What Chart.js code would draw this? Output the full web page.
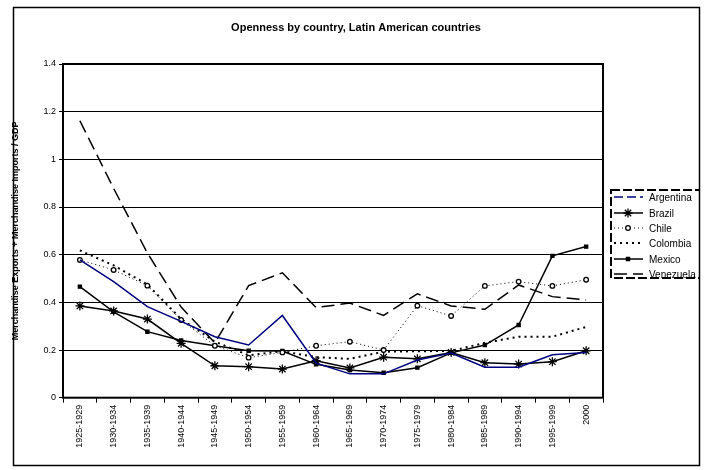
<!DOCTYPE html>
<html>
<head>
<meta charset="utf-8">
<title>Openness by country</title>
<script src="https://cdn.jsdelivr.net/npm/chart.js@4.4.1/dist/chart.umd.min.js"></script>
<style>
  html,body{margin:0;padding:0;background:#fff;}
  #wrap{width:708px;height:470px;}
</style>
</head>
<body>
<div id="wrap"><canvas id="openChart" width="708" height="470"></canvas></div>
<script>
/* data */
const periods = ['1925-1929','1930-1934','1935-1939','1940-1944','1945-1949','1950-1954','1955-1959','1960-1964',
                 '1965-1969','1970-1974','1975-1979','1980-1984','1985-1989','1990-1994','1995-1999','2000'];
const argentina = [0.578,0.487,0.382,0.320,0.256,0.221,0.345,0.145,0.100,0.100,0.158,0.187,0.128,0.128,0.180,0.190];
const brazil    = [0.385,0.364,0.330,0.228,0.134,0.130,0.120,0.155,0.125,0.170,0.163,0.190,0.147,0.141,0.151,0.197];
const chile     = [0.578,0.536,0.470,0.326,0.218,0.168,0.190,0.218,0.235,0.200,0.386,0.343,0.469,0.487,0.469,0.495];
const colombia  = [0.618,0.555,0.475,0.330,0.235,0.178,0.195,0.170,0.163,0.193,0.195,0.196,0.230,0.256,0.256,0.297];
const mexico    = [0.466,0.360,0.277,0.240,0.218,0.197,0.196,0.140,0.116,0.105,0.126,0.188,0.221,0.305,0.595,0.634];
const venezuela = [1.162,0.878,0.607,0.380,0.230,0.470,0.524,0.378,0.397,0.345,0.436,0.385,0.371,0.473,0.424,0.410];
const yTicks = [0,0.2,0.4,0.6,0.8,1,1.2,1.4];

const FONT = '"Liberation Sans", Arial, sans-serif';

function series(label, data, color, width, dash, style, radius, fill){
  return { label, data, borderColor:color, backgroundColor:fill||color, borderWidth:width, borderDash:dash,
           pointStyle:style||false, pointRadius:style?radius:0, pointBorderColor:color, pointBackgroundColor:fill||color,
           pointBorderWidth:1.3, tension:0, fill:false };
}

/* frame, title, axis title and legend in the Excel look */
const excelFrame = {
  id:'excelFrame',
  afterDraw(chart){
    const ctx = chart.ctx, a = chart.chartArea;
    ctx.save();
    ctx.strokeStyle = '#000';
    ctx.lineWidth = 1.5;
    ctx.strokeRect(13.5, 7.5, 686, 458);
    ctx.lineWidth = 2;
    ctx.strokeRect(a.left, a.top, a.right - a.left, a.bottom - a.top);

    ctx.fillStyle = '#000';
    ctx.textAlign = 'center'; ctx.textBaseline = 'middle';
    ctx.font = 'bold 11px ' + FONT;
    ctx.fillText('Openness by country, Latin American countries', 356, 28);

    ctx.save();
    ctx.translate(16, (a.top + a.bottom) / 2);
    ctx.rotate(-Math.PI / 2);
    ctx.font = 'bold 9px ' + FONT;
    ctx.fillText('Merchandise Exports + Merchandise Imports / GDP', 0, 0);
    ctx.restore();

    // legend
    ctx.beginPath(); ctx.rect(0, 0, 699, 470); ctx.clip();
    ctx.lineWidth = 2; ctx.setLineDash([9, 3]);
    ctx.strokeRect(611, 190, 100, 88);
    ctx.setLineDash([]);
    const rows = [197, 213, 228, 243, 259, 274];
    chart.data.datasets.forEach((ds, i) => {
      const y = rows[i];
      ctx.strokeStyle = ds.borderColor; ctx.lineWidth = ds.borderWidth;
      ctx.setLineDash(ds.legendDash || ds.borderDash || []);
      ctx.beginPath(); ctx.moveTo(614, y); ctx.lineTo(643, y); ctx.stroke();
      ctx.setLineDash([]);
      if (ds.pointStyle) {
        ctx.fillStyle = ds.pointBackgroundColor; ctx.strokeStyle = ds.pointBorderColor; ctx.lineWidth = 1.3;
        Chart.helpers.drawPoint(ctx, {pointStyle:ds.pointStyle, rotation:0, radius:ds.pointRadius, borderWidth:1.3}, 628, y);
      }
      ctx.fillStyle = '#000'; ctx.textAlign = 'left'; ctx.font = '10px ' + FONT;
      ctx.fillText(ds.label, 649, y + 1);
    });
    ctx.restore();
  }
};

const arg = series('Argentina', argentina, '#000080', 1.5, []);
arg.legendDash = [9, 4];

new Chart(document.getElementById('openChart'), {
  type:'line',
  data:{
    labels: periods,
    datasets:[
      arg,
      series('Brazil', brazil, '#000', 1.5, [], 'star', 4.5),
      series('Chile', chile, '#000', 1, [1, 3], 'circle', 2.3, '#fff'),
      series('Colombia', colombia, '#000', 2, [2, 4]),
      series('Mexico', mexico, '#000', 1.5, [], 'rect', 2.2),
      series('Venezuela', venezuela, '#000', 1.5, [13, 6])
    ]
  },
  options:{
    responsive:false, animation:false,
    layout:{ padding:{ left:0, top:64, right:105, bottom:0 } },
    plugins:{ legend:{display:false}, title:{display:false}, tooltip:{enabled:false} },
    scales:{
      x:{
        offset:true,
        afterFit(s){ s.height = 72.3; },
        border:{display:false},
        grid:{ offset:true, drawOnChartArea:false, color:'#000', tickLength:5, lineWidth:1 },
        ticks:{ minRotation:90, maxRotation:90, autoSkip:false, padding:2, color:'#000', font:{family:FONT, size:9} }
      },
      y:{
        min:0, max:1.4,
        afterFit(s){ s.width = 63; },
        afterBuildTicks(s){ s.ticks = yTicks.map(v => ({value:v})); },
        border:{display:false},
        grid:{ color:'#000', lineWidth:1, tickLength:4 },
        ticks:{ padding:3, color:'#000', font:{family:FONT, size:9}, callback:v => String(Math.round(v * 10) / 10) }
      }
    }
  },
  plugins:[excelFrame]
});
</script>
</body>
</html>
